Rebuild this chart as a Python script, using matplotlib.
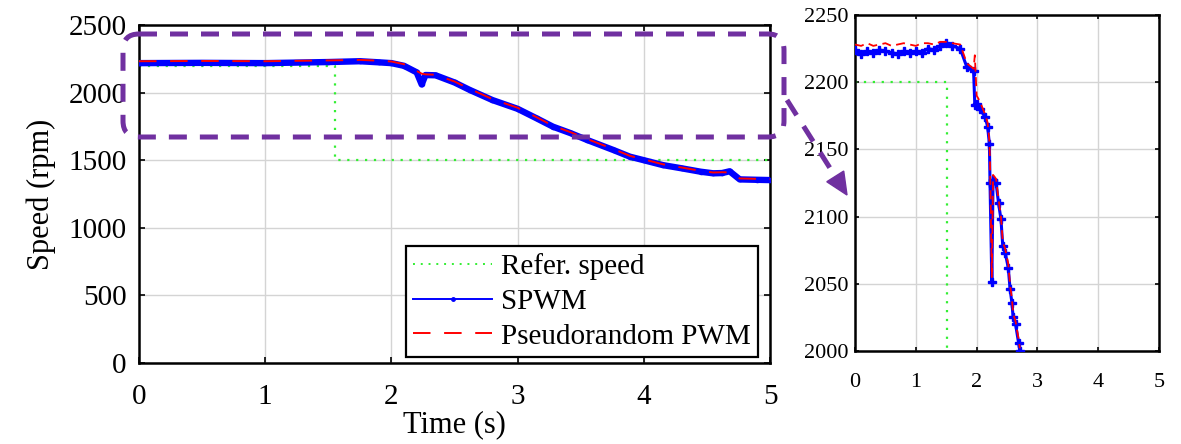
import numpy as np
import matplotlib
import matplotlib.pyplot as plt
from matplotlib.patches import FancyBboxPatch, Polygon

matplotlib.use("Agg")

plt.rcParams["font.family"] = ["Liberation Serif", "DejaVu Serif"]

# main chart data
ref_t = [0, 1.55, 1.55, 5.0]
ref_speed = [2200, 2200, 1500, 1500]

main_t = [0, 0.5, 1.0, 1.5, 1.75, 1.9, 2.0, 2.1, 2.2, 2.24, 2.27, 2.35, 2.5,
          2.62, 2.8, 3.0, 3.15, 3.28, 3.42, 3.55, 3.76, 3.89, 4.0, 4.15,
          4.3, 4.45, 4.55, 4.62, 4.68, 4.76, 4.9, 5.0]
spwm_speed = [2218, 2220, 2218, 2226, 2232, 2224, 2218, 2198, 2150, 2060,
              2130, 2128, 2075, 2020, 1945, 1880, 1810, 1748, 1700, 1650,
              1575, 1526, 1500, 1464, 1440, 1415, 1403, 1405, 1418, 1358,
              1355, 1353]
prpwm_speed = [2232, 2234, 2232, 2238, 2242, 2236, 2230, 2210, 2160, 2140,
               2135, 2132, 2082, 2028, 1952, 1888, 1818, 1755, 1707, 1657,
               1582, 1532, 1506, 1470, 1446, 1421, 1409, 1411, 1410, 1365,
               1362, 1360]

# zoomed chart data
zref_t = [0, 1.52, 1.52]
zref_speed = [2200, 2200, 2000]

zoom_t = [0, 0.1, 0.2, 0.3, 0.4, 0.5, 0.6, 0.7, 0.8, 0.9, 1.0, 1.1, 1.2,
          1.3, 1.4, 1.5, 1.6, 1.73, 1.84, 1.95, 1.97, 2.0, 2.05, 2.14, 2.18,
          2.21, 2.22, 2.25, 2.27, 2.32, 2.36, 2.40, 2.43, 2.47, 2.52, 2.55,
          2.58, 2.60, 2.64, 2.69, 2.71]
zoom_spwm = [2224, 2221, 2223, 2222, 2224, 2223, 2222, 2221, 2223, 2222,
             2223, 2222, 2225, 2224, 2227, 2229, 2227, 2225, 2211, 2208,
             2183, 2184, 2180, 2174, 2167, 2154, 2125, 2051, 2127, 2125,
             2110, 2098, 2078, 2073, 2062, 2046, 2036, 2025, 2020, 2006,
             2000]
zoom_prpwm = [2228, 2227, 2229, 2227, 2228, 2229, 2227, 2228, 2229, 2228,
              2227, 2229, 2229, 2228, 2230, 2230, 2229, 2228, 2214, 2210,
              2220, 2190, 2186, 2176, 2170, 2156, 2140, 2055, 2131, 2128,
              2113, 2100, 2081, 2076, 2065, 2049, 2039, 2028, 2022, 2009,
              2002]

blue = "#0000ff"
red = "#ff0000"
green = "#33ee33"
purple = "#7030a0"

fig = plt.figure(figsize=(11.81, 4.44), dpi=100)

# main axes
ax = fig.add_axes([0.1177, 0.1824, 0.5343, 0.7613])
ax.plot(ref_t, ref_speed, color=green, ls=(0, (1, 3)), lw=1.6,
        label="Refer. speed", zorder=2)
ax.plot(main_t, spwm_speed, color=blue, lw=4.6, marker=".", ms=6,
        label="SPWM", zorder=3)
ax.plot(main_t, prpwm_speed, color=red, lw=1.4, ls=(0, (9, 7)),
        label="Pseudorandom PWM", zorder=4)
ax.set_xlim(0, 5)
ax.set_ylim(0, 2500)
ax.set_xticks([0, 1, 2, 3, 4, 5])
ax.set_yticks([0, 500, 1000, 1500, 2000, 2500])
ax.grid(True, color="#d4d4d4", lw=1.0)
ax.tick_params(direction="in", top=True, right=True, length=4, width=1.2,
               labelsize=21)
ax.tick_params(axis="x", pad=15)
ax.tick_params(axis="y", pad=9)
for s in ax.spines.values():
    s.set_linewidth(1.8)
ax.set_xlabel("Time (s)", fontsize=22, labelpad=0)
ax.set_ylabel("Speed (rpm)", fontsize=22, labelpad=9)
leg = ax.legend(loc="lower right", bbox_to_anchor=(0.981, 0.018),
                borderaxespad=0, fontsize=21, fancybox=False,
                edgecolor="black", framealpha=1, handlelength=2.7,
                handletextpad=0.3, labelspacing=0.28, borderpad=0.25)
leg.get_frame().set_linewidth(1.6)
for h in leg.get_lines():
    h.set_linewidth(1.4)
leg.get_lines()[1].set_markersize(5)

# zoomed axes
axz = fig.add_axes([0.724, 0.2095, 0.2574, 0.7568])
axz.plot(zref_t, zref_speed, color=green, ls=(0, (1, 3)), lw=1.6, zorder=2)
axz.plot(zoom_t, zoom_spwm, color=blue, lw=2.2, marker="P", ms=6, zorder=3)
axz.plot(zoom_t, zoom_prpwm, color=red, lw=1.3, ls=(0, (5, 3)), zorder=4)
axz.set_xlim(0, 5)
axz.set_ylim(2000, 2250)
axz.set_xticks([0, 1, 2, 3, 4, 5])
axz.set_yticks([2000, 2050, 2100, 2150, 2200, 2250])
axz.grid(True, color="#d4d4d4", lw=1.0)
axz.tick_params(direction="in", top=True, right=True, length=3, width=1.2,
                labelsize=16, pad=5)
axz.tick_params(axis="x", pad=16)
for s in axz.spines.values():
    s.set_linewidth(1.8)

# overlay for the purple annotation, in pixel coordinates
ov = fig.add_axes([0, 0, 1, 1], zorder=10)
ov.set_xlim(0, 1181)
ov.set_ylim(444, 0)
ov.axis("off")
ov.patch.set_alpha(0)

box = FancyBboxPatch((123, 34), 661, 103,
                     boxstyle="round,pad=0,rounding_size=16",
                     fill=False, edgecolor=purple, lw=3.6,
                     ls=(0, (3.6, 2.6)))
ov.add_patch(box)

x0, y0 = 787, 100
x1, y1 = 847, 195
d = np.array([x1 - x0, y1 - y0], dtype=float)
d /= np.hypot(*d)
n = np.array([-d[1], d[0]])
head_len, head_w = 22, 10
base = np.array([x1, y1]) - d * head_len
ov.plot([x0, base[0]], [y0, base[1]], color=purple, lw=3.6,
        ls=(0, (3.6, 2.6)), solid_capstyle="butt")
ov.add_patch(Polygon([[x1, y1], base + n * head_w, base - n * head_w],
                     closed=True, color=purple))

fig.savefig("out.png", dpi=100)
plt.close(fig)
